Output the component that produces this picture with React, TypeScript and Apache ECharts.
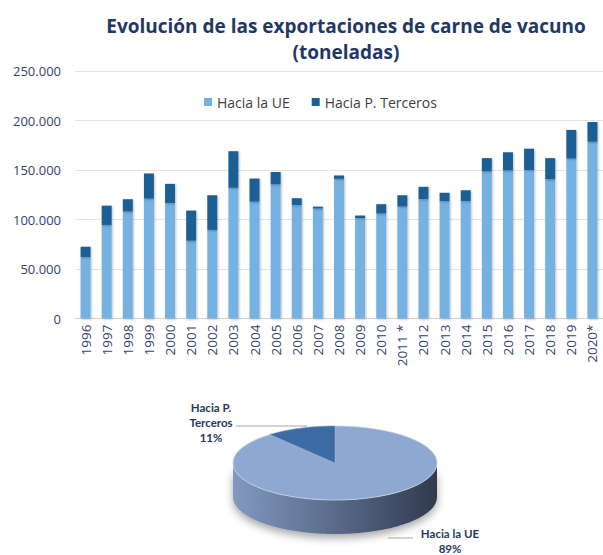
import React, { useEffect, useRef } from "react";
import * as echarts from "echarts";

const categories = [
  "1996", "1997", "1998", "1999", "2000", "2001", "2002", "2003", "2004", "2005",
  "2006", "2007", "2008", "2009", "2010", "2011 *", "2012", "2013", "2014", "2015",
  "2016", "2017", "2018", "2019", "2020*",
];
const ueValues = [
  62000, 94500, 108000, 121000, 116500, 78500, 89500, 132000, 118000, 135500,
  114500, 111000, 141000, 101500, 106000, 113000, 120500, 118500, 118500, 148500,
  149500, 150000, 140500, 161500, 178500,
];
const tercerosValues = [
  10500, 19500, 12500, 25500, 19500, 30500, 35000, 37000, 23500, 12500,
  7000, 2000, 3500, 2500, 9500, 11500, 12500, 8500, 11000, 13500,
  18500, 21500, 21500, 29000, 20000,
];
const seriesNames = ["Hacia la UE", "Hacia P. Terceros"];
const pieNames = ["Hacia la UE", "Hacia P. Terceros"];
const pieValues = [89, 11];

const FONT = "'Open Sans', sans-serif";
const LFONT = "Lato, 'Open Sans', sans-serif";
const NAVY = "#1f3864";
const LABEL = "#34426f";

// pie layout
const PIE = { cx: 335, cy: 463, rx: 102, ry: 37, depth: 34 };
const PIE_LABELS = [
  { x: 450, y: 526, line: [[413, 538], [388, 538]] },
  { x: 211, y: 400, line: [[236, 426], [307, 426]] },
];

function fmt(v: number) {
  return String(v).replace(/\B(?=(\d{3})+(?!\d))/g, ".");
}

function ept(theta: number, dy = 0) {
  const t = (theta * Math.PI) / 180;
  return [PIE.cx + PIE.rx * Math.sin(t), PIE.cy - PIE.ry * Math.cos(t) + dy];
}

export default function App() {
  const ref = useRef<HTMLDivElement>(null);
  useEffect(() => {
    if (!ref.current) return;
    const chart = echarts.init(ref.current, undefined, { renderer: "svg" });
    const total = pieValues.reduce((a, b) => a + b, 0);

    const renderItem = (params: any, api: any) => {
      const i = params.dataIndex;
      const v = api.value(0);
      let start = 0;
      for (let k = 0; k < i; k++) start += (pieValues[k] / total) * 360;
      const end = start + (v / total) * 360;
      const children: any[] = [];
      const s0 = Math.max(start, 90);
      const s1 = Math.min(end, 270);
      if (s1 > s0) {
        const pts: number[][] = [];
        for (let a = s0; a <= s1 + 1e-6; a += 2) pts.push(ept(Math.min(a, s1)));
        for (let a = s1; a >= s0 - 1e-6; a -= 2) pts.push(ept(Math.max(a, s0), PIE.depth));
        children.push({
          type: "polygon",
          shape: { points: pts },
          style: {
            fill: new echarts.graphic.LinearGradient(0, 0, 1, 0, [
              { offset: 0, color: "#8299c0" },
              { offset: 0.5, color: "#5a6a8a" },
              { offset: 1, color: "#303a4e" },
            ]),
            shadowColor: "rgba(0,0,0,0.35)",
            shadowBlur: 8,
            shadowOffsetY: 4,
          },
        });
      }
      const top: number[][] = [[PIE.cx, PIE.cy]];
      for (let a = start; a <= end + 1e-6; a += 2) top.push(ept(Math.min(a, end)));
      top.push(ept(end));
      children.push({
        type: "polygon",
        shape: { points: top },
        style: {
          fill: i === 0 ? "#8fa8cf" : "#3d6ba4",
          stroke: i === 0 ? "rgba(200,215,235,0.8)" : "rgba(120,150,200,0.6)",
          lineWidth: 1,
        },
      });
      const lab = PIE_LABELS[i];
      children.push({
        type: "polyline",
        shape: { points: lab.line },
        style: { stroke: "#a6a6a6", lineWidth: 1, fill: "none" },
      });
      const pct = Math.round((v / total) * 100) + "%";
      const name = i === 0 ? pieNames[i] : pieNames[i].replace("P. ", "P.\n");
      children.push({
        type: "text",
        x: lab.x,
        y: lab.y,
        style: {
          text: name + "\n" + pct,
          fill: NAVY,
          font: `bold 11.5px ${LFONT}`,
          align: "center",
          verticalAlign: "top",
          lineHeight: 15,
        },
      });
      return { type: "group", children };
    };

    chart.setOption({
      animation: false,
      backgroundColor: "#ffffff",
      title: {
        text: "Evolución de las exportaciones de carne de vacuno\n(toneladas)",
        left: 341,
        top: 8,
        textAlign: "center",
        textStyle: {
          color: NAVY,
          fontFamily: FONT,
          fontWeight: "bold",
          fontSize: 19,
          lineHeight: 26,
        },
      },
      legend: {
        data: seriesNames,
        left: 199,
        top: 90,
        itemWidth: 8,
        itemHeight: 8,
        itemGap: 22,
        icon: "rect",
        textStyle: { color: "#404040", fontFamily: FONT, fontSize: 14 },
      },
      grid: { left: 75, top: 71, width: 535, height: 247.5 },
      xAxis: {
        type: "category",
        data: categories,
        axisTick: { show: false },
        axisLine: { lineStyle: { color: "#d0d0d0" } },
        axisLabel: {
          rotate: 90,
          interval: 0,
          margin: 6,
          color: LABEL,
          fontFamily: FONT,
          fontSize: 13.5,
        },
      },
      yAxis: {
        type: "value",
        min: 0,
        max: 250000,
        interval: 50000,
        axisLine: { show: false },
        axisTick: { show: false },
        splitLine: { lineStyle: { color: "#e3e3e3" } },
        axisLabel: {
          margin: 14,
          color: LABEL,
          fontFamily: FONT,
          fontSize: 13,
          formatter: (v: number) => fmt(v),
        },
      },
      series: [
        {
          name: seriesNames[0],
          type: "bar",
          stack: "t",
          barWidth: 10,
          data: ueValues,
          itemStyle: {
            color: "#74b2e2",
            shadowColor: "rgba(0,0,0,0.25)",
            shadowBlur: 2,
            shadowOffsetX: 1,
            shadowOffsetY: 1,
          },
        },
        {
          name: seriesNames[1],
          type: "bar",
          stack: "t",
          barWidth: 10,
          data: tercerosValues,
          itemStyle: {
            color: "#1f5f95",
            shadowColor: "rgba(0,0,0,0.25)",
            shadowBlur: 2,
            shadowOffsetX: 1,
            shadowOffsetY: 1,
          },
        },
        {
          type: "custom",
          coordinateSystem: "none",
          data: pieValues.map((v) => [v]),
          renderItem,
          silent: true,
        },
      ],
    });
    return () => chart.dispose();
  }, []);
  return (
    <div
      ref={ref}
      style={{ position: "absolute", left: 0, top: 0, width: 603, height: 555, overflow: "hidden" }}
    />
  );
}
